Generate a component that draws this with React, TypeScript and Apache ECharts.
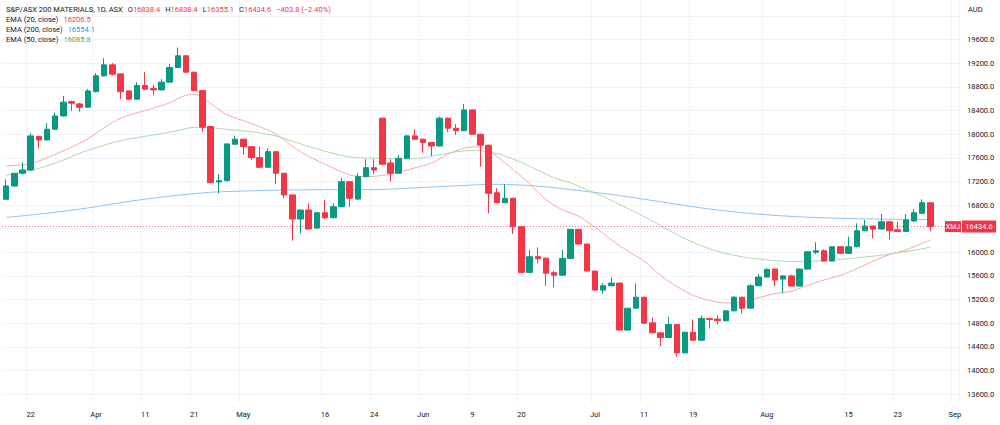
import React, { useEffect, useRef } from 'react';
import * as echarts from 'echarts';

// ---- Data ----------------------------------------------------------------
const YEAR = 2022;
// ASX trading sessions shown on the time scale (last three are future slots)
const marDays = [17, 18, 21, 22, 23, 24, 25, 28, 29, 30, 31];
const aprDays = [1, 4, 5, 6, 7, 8, 11, 12, 13, 14, 19, 20, 21, 22, 26, 27, 28, 29];
const mayDays = [2, 3, 4, 5, 6, 9, 10, 11, 12, 13, 16, 17, 18, 19, 20, 23, 24, 25, 26, 27, 30, 31];
const junDays = [1, 2, 3, 6, 7, 8, 9, 10, 14, 15, 16, 17, 20, 21, 22, 23, 24, 27, 28, 29, 30];
const julDays = [1, 4, 5, 6, 7, 8, 11, 12, 13, 14, 15, 18, 19, 20, 21, 22, 25, 26, 27, 28, 29];
const augDays = [1, 2, 3, 4, 5, 8, 9, 10, 11, 12, 15, 16, 17, 18, 19, 22, 23, 24, 25, 26, 29, 30, 31];
const sepDays = [1];

// Daily candles in session order: [open, high, low, close]
const candles: number[][] = [
  [16897, 17236, 16890, 17122], [17122, 17345, 17110, 17337], [17337, 17524, 17320, 17393],
  [17393, 18015, 17380, 17970], [17958, 17965, 17761, 17902], [17902, 18185, 17890, 18083],
  [18083, 18365, 18070, 18308], [18308, 18648, 18295, 18541], [18551, 18570, 18393, 18524],
  [18512, 18530, 18381, 18456], [18456, 18760, 18440, 18732], [18720, 19032, 18705, 18987],
  [18987, 19287, 18975, 19173], [19173, 19202, 18992, 19015], [19020, 19030, 18592, 18720],
  [18732, 18740, 18580, 18592], [18592, 18880, 18580, 18822], [18822, 19054, 18749, 18761],
  [18771, 18834, 18659, 18749], [18749, 18931, 18740, 18880], [18880, 19185, 18870, 19127],
  [19127, 19466, 19115, 19326], [19326, 19335, 19040, 19049], [19049, 19055, 18730, 18737],
  [18737, 18745, 18042, 18117], [18127, 18135, 17165, 17178], [17190, 17320, 16998, 17212],
  [17212, 17840, 17200, 17834], [17829, 17975, 17820, 17914], [17914, 17920, 17647, 17788],
  [17788, 17795, 17563, 17602], [17602, 17788, 17430, 17439], [17439, 17761, 17430, 17703],
  [17703, 17710, 17156, 17337], [17337, 17345, 16914, 16970], [16970, 16980, 16195, 16563],
  [16563, 16720, 16320, 16715], [16715, 16829, 16385, 16393], [16410, 16675, 16400, 16669],
  [16669, 16885, 16560, 16585], [16585, 16829, 16575, 16771], [16771, 17253, 16760, 17195],
  [17195, 17200, 16771, 16914], [16900, 17337, 16890, 17280], [17280, 17575, 17270, 17432],
  [17432, 17575, 17325, 17393], [18270, 18280, 17480, 17490], [17512, 17575, 17195, 17337],
  [17337, 17647, 17330, 17592], [17592, 17990, 17585, 17970], [17970, 18083, 17905, 17914],
  [17914, 17920, 17687, 17858], [17858, 17865, 17630, 17800], [17800, 18297, 17790, 18270],
  [18270, 18280, 18032, 18100], [18100, 18168, 17987, 18059], [18059, 18512, 18050, 18410],
  [18410, 18420, 17990, 17998], [17998, 18005, 17449, 17812], [17812, 17820, 16659, 16998],
  [17008, 17083, 16830, 16839], [16839, 17151, 16830, 16914], [16914, 16920, 16308, 16432],
  [16432, 16440, 15642, 15659], [15659, 16043, 15650, 15924], [15924, 16083, 15812, 15890],
  [15900, 15905, 15433, 15646], [15654, 15687, 15405, 15612], [15612, 16043, 15605, 15895],
  [15895, 16395, 15890, 16387], [16387, 16392, 16130, 16139], [16139, 16145, 15675, 15681],
  [15681, 15690, 15350, 15359], [15359, 15478, 15302, 15433], [15433, 15574, 15425, 15478],
  [15478, 15485, 14675, 14682], [14682, 15060, 14675, 15053], [15053, 15470, 15045, 15239],
  [15239, 15245, 14790, 14799], [14805, 14895, 14630, 14636], [14636, 14640, 14415, 14557],
  [14557, 14907, 14550, 14777], [14777, 14785, 14229, 14296], [14296, 14655, 14290, 14646],
  [14646, 14862, 14505, 14511], [14511, 14930, 14505, 14879], [14879, 14885, 14709, 14862],
  [14868, 14930, 14777, 14839], [14839, 15019, 14830, 15008], [15008, 15256, 15000, 15239],
  [15239, 15245, 14963, 15053], [15053, 15460, 15045, 15432], [15432, 15630, 15425, 15580],
  [15580, 15730, 15575, 15710], [15715, 15720, 15427, 15529], [15545, 15614, 15305, 15600],
  [15600, 15620, 15420, 15427], [15427, 15727, 15420, 15715], [15715, 16020, 15710, 16008],
  [16000, 16168, 15970, 16025], [16025, 16049, 15845, 15851], [15851, 16100, 15845, 16093],
  [16093, 16100, 15970, 15981], [15981, 16263, 15975, 16093], [16093, 16490, 16085, 16364],
  [16364, 16546, 16355, 16444], [16444, 16450, 16236, 16393], [16393, 16647, 16385, 16517],
  [16517, 16525, 16219, 16364], [16381, 16517, 16340, 16350], [16350, 16647, 16345, 16546],
  [16529, 16727, 16520, 16669], [16659, 16897, 16650, 16838.4], [16838.4, 16838.4, 16355.1, 16434.6],
];

// EMA readings: [session date, value]
const ema20: [string, number][] = [
  ['2022-03-17', 17460], ['2022-03-22', 17500], ['2022-03-24', 17600], ['2022-03-29', 17780],
  ['2022-03-31', 17920], ['2022-04-04', 18110], ['2022-04-06', 18270], ['2022-04-08', 18360],
  ['2022-04-12', 18440], ['2022-04-14', 18530], ['2022-04-20', 18660], ['2022-04-21', 18670],
  ['2022-04-22', 18620], ['2022-04-26', 18520], ['2022-04-28', 18330], ['2022-05-03', 18180],
  ['2022-05-06', 18000], ['2022-05-11', 17700], ['2022-05-16', 17490], ['2022-05-19', 17310],
  ['2022-05-23', 17280], ['2022-05-25', 17300], ['2022-05-27', 17360], ['2022-05-31', 17430],
  ['2022-06-02', 17510], ['2022-06-06', 17660], ['2022-06-08', 17760], ['2022-06-09', 17785],
  ['2022-06-10', 17780], ['2022-06-14', 17720], ['2022-06-15', 17620], ['2022-06-17', 17400],
  ['2022-06-21', 17160], ['2022-06-23', 16890], ['2022-06-27', 16720], ['2022-06-29', 16610],
  ['2022-07-01', 16420], ['2022-07-05', 16210], ['2022-07-07', 16020], ['2022-07-11', 15850],
  ['2022-07-13', 15610], ['2022-07-15', 15420], ['2022-07-19', 15270], ['2022-07-21', 15185],
  ['2022-07-25', 15140], ['2022-07-27', 15160], ['2022-07-29', 15230], ['2022-08-02', 15300],
  ['2022-08-04', 15340], ['2022-08-08', 15440], ['2022-08-10', 15530], ['2022-08-12', 15610],
  ['2022-08-16', 15720], ['2022-08-18', 15850], ['2022-08-22', 15960], ['2022-08-24', 16040],
  ['2022-08-26', 16150], ['2022-08-29', 16206.5],
];

const ema50: [string, number][] = [
  ['2022-03-17', 17300], ['2022-03-23', 17420], ['2022-03-28', 17560], ['2022-03-30', 17676],
  ['2022-04-01', 17770], ['2022-04-06', 17890], ['2022-04-08', 17940], ['2022-04-13', 18010],
  ['2022-04-19', 18060], ['2022-04-21', 18115], ['2022-04-26', 18110], ['2022-04-28', 18080],
  ['2022-05-03', 18040], ['2022-05-06', 17970], ['2022-05-10', 17880], ['2022-05-13', 17750],
  ['2022-05-18', 17640], ['2022-05-20', 17600], ['2022-05-25', 17590], ['2022-05-30', 17580],
  ['2022-06-01', 17600], ['2022-06-03', 17650], ['2022-06-07', 17700], ['2022-06-09', 17725],
  ['2022-06-14', 17700], ['2022-06-16', 17630], ['2022-06-20', 17520], ['2022-06-22', 17390],
  ['2022-06-24', 17260], ['2022-06-28', 17175], ['2022-06-30', 17060], ['2022-07-04', 16940],
  ['2022-07-06', 16810], ['2022-07-08', 16675], ['2022-07-12', 16530], ['2022-07-14', 16375],
  ['2022-07-18', 16230], ['2022-07-20', 16110], ['2022-07-22', 16015], ['2022-07-26', 15950],
  ['2022-07-28', 15900], ['2022-08-01', 15870], ['2022-08-03', 15850], ['2022-08-05', 15840],
  ['2022-08-09', 15850], ['2022-08-11', 15870], ['2022-08-15', 15890], ['2022-08-17', 15920],
  ['2022-08-19', 15950], ['2022-08-23', 15990], ['2022-08-25', 16035], ['2022-08-29', 16085.8],
];

const ema200: [string, number][] = [
  ['2022-03-17', 16590], ['2022-03-24', 16660], ['2022-03-31', 16750], ['2022-04-07', 16860],
  ['2022-04-14', 16950], ['2022-04-26', 17015], ['2022-05-03', 17040], ['2022-05-10', 17055],
  ['2022-05-17', 17058], ['2022-05-24', 17060], ['2022-05-31', 17090], ['2022-06-07', 17125],
  ['2022-06-15', 17150], ['2022-06-22', 17120], ['2022-06-29', 17045], ['2022-07-06', 16960],
  ['2022-07-13', 16855], ['2022-07-20', 16750], ['2022-07-27', 16670], ['2022-08-03', 16615],
  ['2022-08-10', 16583], ['2022-08-17', 16565], ['2022-08-24', 16557], ['2022-08-29', 16554.1],
];

// Time-scale labels
const tickDates = [
  '2022-03-22', '2022-04-01', '2022-04-11', '2022-04-21', '2022-05-02', '2022-05-16',
  '2022-05-24', '2022-06-01', '2022-06-09', '2022-06-20', '2022-07-01', '2022-07-11',
  '2022-07-19', '2022-08-01', '2022-08-15', '2022-08-23', '2022-09-01',
];
const tickTexts = ['22', 'Apr', '11', '21', 'May', '16', '24', 'Jun', '9', '20', 'Jul', '11', '19', 'Aug', '15', '23', 'Sep'];

const symbolTitle = 'S&P/ASX 200 MATERIALS, 1D, ASX';
const tickerCode = 'XMJ';
const currency = 'AUD';

// ---- Styling -------------------------------------------------------------
const FONT = 'Roboto, "Liberation Sans", Arial, sans-serif';
const UP = '#089981';
const DOWN = '#f23645';
const TEXT = '#131722';
const GRID = '#f0f3fa';

const pad = (n: number) => String(n).padStart(2, '0');
const dates: string[] = ([
  [3, marDays], [4, aprDays], [5, mayDays], [6, junDays], [7, julDays], [8, augDays], [9, sepDays],
] as [number, number[]][]).flatMap(([m, days]) => days.map((d) => `${YEAR}-${pad(m)}-${pad(d)}`));

const tickMap: Record<string, string> = {};
tickDates.forEach((d, i) => { tickMap[d] = tickTexts[i]; });
const isTick = (_: number, value: string) => value in tickMap;

export default function App() {
  const ref = useRef<HTMLDivElement>(null);

  useEffect(() => {
    if (!ref.current) return;
    const chart = echarts.init(ref.current, null, { renderer: 'svg' });

    const last = candles[candles.length - 1];
    const prev = candles[candles.length - 2];
    const lastClose = last[3];
    const change = lastClose - prev[3];
    const pct = (change / prev[3]) * 100;
    const sign = change < 0 ? '\u2212' : '+';
    const changeText = `${sign}${Math.abs(change).toFixed(1)} (${sign}${Math.abs(pct).toFixed(2)}%)`;

    const lineSeries = (name: string, data: [string, number][], color: string) => ({
      name,
      type: 'line',
      xAxisIndex: 0,
      yAxisIndex: 0,
      data,
      smooth: 0.3,
      showSymbol: false,
      silent: true,
      lineStyle: { color, width: 1 },
      z: 3,
    });

    chart.setOption({
      animation: false,
      backgroundColor: '#ffffff',
      textStyle: { fontFamily: FONT },
      grid: [
        { left: 2, right: 41, top: 16, bottom: 31 },
        { left: 2, right: 41, top: 0, bottom: 22 },
      ],
      xAxis: [
        {
          type: 'category',
          gridIndex: 0,
          data: dates,
          boundaryGap: true,
          axisLine: { show: false },
          axisTick: { show: false },
          axisLabel: { show: false },
          splitLine: { show: false },
        },
        {
          type: 'category',
          gridIndex: 1,
          data: dates,
          boundaryGap: true,
          axisLine: { show: false },
          axisTick: { show: false },
          axisLabel: {
            interval: isTick,
            formatter: (v: string) => tickMap[v] ?? '',
            color: TEXT,
            fontSize: 7.5,
            fontFamily: FONT,
            margin: 7,
          },
          splitLine: { show: true, interval: isTick, lineStyle: { color: GRID, width: 1 } },
        },
      ],
      yAxis: [
        {
          type: 'value',
          gridIndex: 0,
          position: 'right',
          min: 13600,
          max: 20000,
          interval: 400,
          axisLine: { show: false },
          axisTick: { show: false },
          axisLabel: {
            formatter: (v: number) => (v >= 20000 ? '' : v.toFixed(1)),
            color: TEXT,
            fontSize: 7.5,
            fontFamily: FONT,
            margin: 8,
            align: 'left',
          },
          splitLine: { show: true, lineStyle: { color: GRID, width: 1 } },
        },
        {
          type: 'value',
          gridIndex: 1,
          show: false,
          min: 0,
          max: 1,
        },
      ],
      series: [
        {
          name: tickerCode,
          type: 'candlestick',
          xAxisIndex: 0,
          yAxisIndex: 0,
          barWidth: 6,
          data: candles.map(([o, h, l, c]) => [o, c, l, h]),
          itemStyle: {
            color: UP,
            color0: DOWN,
            borderColor: UP,
            borderColor0: DOWN,
            borderWidth: 1,
          },
          z: 4,
          markLine: {
            silent: true,
            symbol: 'none',
            label: { show: false },
            lineStyle: { color: DOWN, type: [1, 2], width: 1, opacity: 0.7 },
            data: [{ yAxis: lastClose }],
          },
        },
        lineSeries('EMA 20', ema20, '#f7a9a4'),
        lineSeries('EMA 200', ema200, '#91c2f2'),
        lineSeries('EMA 50', ema50, '#aed8aa'),
      ],
    });

    const priceY = chart.convertToPixel({ yAxisIndex: 0 }, lastClose) as number;
    const lastVal = (arr: [string, number][]) => arr[arr.length - 1][1].toFixed(1);
    const richBase = { fontSize: 7.5, fontFamily: FONT };

    chart.setOption({
      graphic: [
        {
          type: 'text',
          left: 6,
          top: 5,
          style: {
            text:
              `{n|${symbolTitle}}{s| }{n|O}{r|${last[0].toFixed(1)}}{s| }{n|H}{r|${last[1].toFixed(1)}}` +
              `{s| }{n|L}{r|${last[2].toFixed(1)}}{s| }{n|C}{r|${last[3].toFixed(1)}}{s| }{r|${changeText}}`,
            rich: {
              n: { ...richBase, fill: TEXT },
              r: { ...richBase, fill: DOWN },
              s: { ...richBase, width: 5 },
            },
          },
        },
        {
          type: 'text',
          left: 6,
          top: 15,
          style: {
            text: `{n|EMA (20, close)}{s| }{v|${lastVal(ema20)}}`,
            rich: { n: { ...richBase, fill: TEXT }, v: { ...richBase, fill: '#f23645' }, s: { ...richBase, width: 5 } },
          },
        },
        {
          type: 'text',
          left: 6,
          top: 25,
          style: {
            text: `{n|EMA (200, close)}{s| }{v|${lastVal(ema200)}}`,
            rich: { n: { ...richBase, fill: TEXT }, v: { ...richBase, fill: '#2196f3' }, s: { ...richBase, width: 5 } },
          },
        },
        {
          type: 'text',
          left: 6,
          top: 35,
          style: {
            text: `{n|EMA (50, close)}{s| }{v|${lastVal(ema50)}}`,
            rich: { n: { ...richBase, fill: TEXT }, v: { ...richBase, fill: '#4caf50' }, s: { ...richBase, width: 5 } },
          },
        },
        {
          type: 'text',
          left: 968,
          top: 5,
          z: 100,
          style: { text: currency, fill: TEXT, font: `7.5px ${FONT}` },
        },
        {
          type: 'group',
          z: 100,
          children: [
            { type: 'rect', z: 100, shape: { x: 945, y: priceY - 5.5, width: 16, height: 11 }, style: { fill: DOWN } },
            {
              type: 'text',
              z: 101,
              x: 953,
              y: priceY,
              style: { text: tickerCode, fill: '#ffffff', font: `7px ${FONT}`, textAlign: 'center', textVerticalAlign: 'middle' },
            },
            { type: 'rect', z: 100, shape: { x: 962, y: priceY - 6, width: 34, height: 12 }, style: { fill: DOWN } },
            {
              type: 'text',
              z: 101,
              x: 979,
              y: priceY,
              style: { text: lastClose.toFixed(1), fill: '#ffffff', font: `7.5px ${FONT}`, textAlign: 'center', textVerticalAlign: 'middle' },
            },
          ],
        },
      ],
    });

    return () => chart.dispose();
  }, []);

  return (
    <div
      ref={ref}
      style={{ position: 'fixed', left: 0, top: 0, width: 1000, height: 425, background: '#ffffff' }}
    />
  );
}
